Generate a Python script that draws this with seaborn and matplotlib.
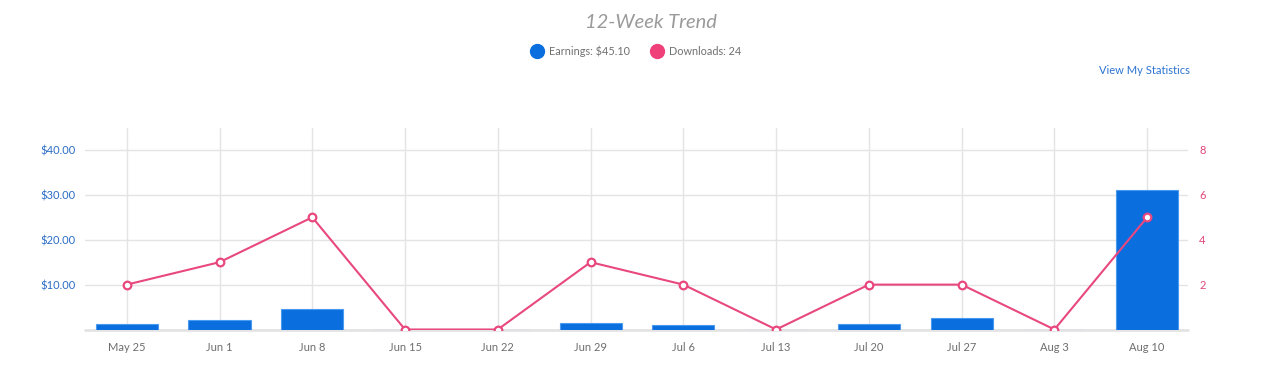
import matplotlib
matplotlib.use("Agg")
import matplotlib.pyplot as plt
from matplotlib.lines import Line2D
import numpy as np
import pandas as pd
import seaborn as sns

# data
weeks = ["May 25", "Jun 1", "Jun 8", "Jun 15", "Jun 22", "Jun 29",
         "Jul 6", "Jul 13", "Jul 20", "Jul 27", "Aug 3", "Aug 10"]
earnings = [1.2, 2.1, 4.5, 0.0, 0.0, 1.4, 0.9, 0.0, 1.3, 2.6, 0.0, 31.1]
downloads = [2, 3, 5, 0, 0, 3, 2, 0, 2, 2, 0, 5]
earn_ticks = [0, 10, 20, 30, 40]
earn_labels = ["", "$10.00", "$20.00", "$30.00", "$40.00"]
dl_ticks = [2, 4, 6, 8]

blue = "#0A6EDF"
pink = "#E8487F"
grid_c = "#E4E4E4"

df = pd.DataFrame({"week": weeks, "earnings": earnings, "downloads": downloads})

sns.set_style("white")
plt.rcParams["font.family"] = ["Lato", "DejaVu Sans"]

fig = plt.figure(figsize=(12.64, 3.73), dpi=100)
ax = fig.add_axes([85 / 1264, 43.5 / 373, (1188 - 85) / 1264, (329.5 - 128) / 373])

sns.barplot(data=df, x="week", y="earnings", color=blue, width=0.67,
            saturation=1, edgecolor="#4A9AF0", linewidth=0.8, ax=ax)
ax.set_axisbelow(True)
ax.set_xlim(-0.45, 11.44)
ax.set_ylim(0, 44.9)
ax.set_yticks(earn_ticks)
ax.set_yticklabels(earn_labels)
ax.grid(True, color=grid_c, linewidth=1)
# baseline stays visible between the bars
ax.axhline(0, color=grid_c, linewidth=2, clip_on=False, zorder=0.5)
ax.set_xlabel("")
ax.set_ylabel("")
ax.tick_params(axis="y", length=0, pad=7, labelsize=8, labelcolor="#2B6CC4")
ax.tick_params(axis="x", length=0, pad=9, labelsize=8, labelcolor="#6E6E6E")
for s in ax.spines.values():
    s.set_visible(False)

ax2 = ax.twinx()
sns.lineplot(x=np.arange(len(weeks)), y=downloads, color=pink, linewidth=1.5,
             marker="o", markersize=5.5, markerfacecolor="white",
             markeredgecolor=pink, markeredgewidth=1.6, ax=ax2)
ax2.set_ylim(0, 8.98)
ax2.set_yticks(dl_ticks)
ax2.grid(False)
ax2.tick_params(axis="y", length=0, pad=8, labelsize=8, labelcolor="#E0457B")
for s in ax2.spines.values():
    s.set_visible(False)

fig.text(651 / 1264, 1 - 22 / 373, "12-Week Trend", ha="center", va="center",
         fontsize=14.5, style="italic", color="#9A9A9A")

handles = [Line2D([], [], marker="o", linestyle="", markersize=10,
                  markerfacecolor=blue, markeredgecolor=blue),
           Line2D([], [], marker="o", linestyle="", markersize=10,
                  markerfacecolor="#F0407A", markeredgecolor="#F0407A")]
fig.legend(handles, ["Earnings: $45.10", "Downloads: 24"], loc="center",
           bbox_to_anchor=(634 / 1264, 1 - 51 / 373), ncol=2, frameon=False,
           fontsize=7.8, labelcolor="#707070", handletextpad=0.1, columnspacing=1.5)

fig.text(1190 / 1264, 1 - 71 / 373, "View My Statistics", ha="right", va="center",
         fontsize=8, color="#2D74D2")

fig.savefig("out.png", dpi=100)
